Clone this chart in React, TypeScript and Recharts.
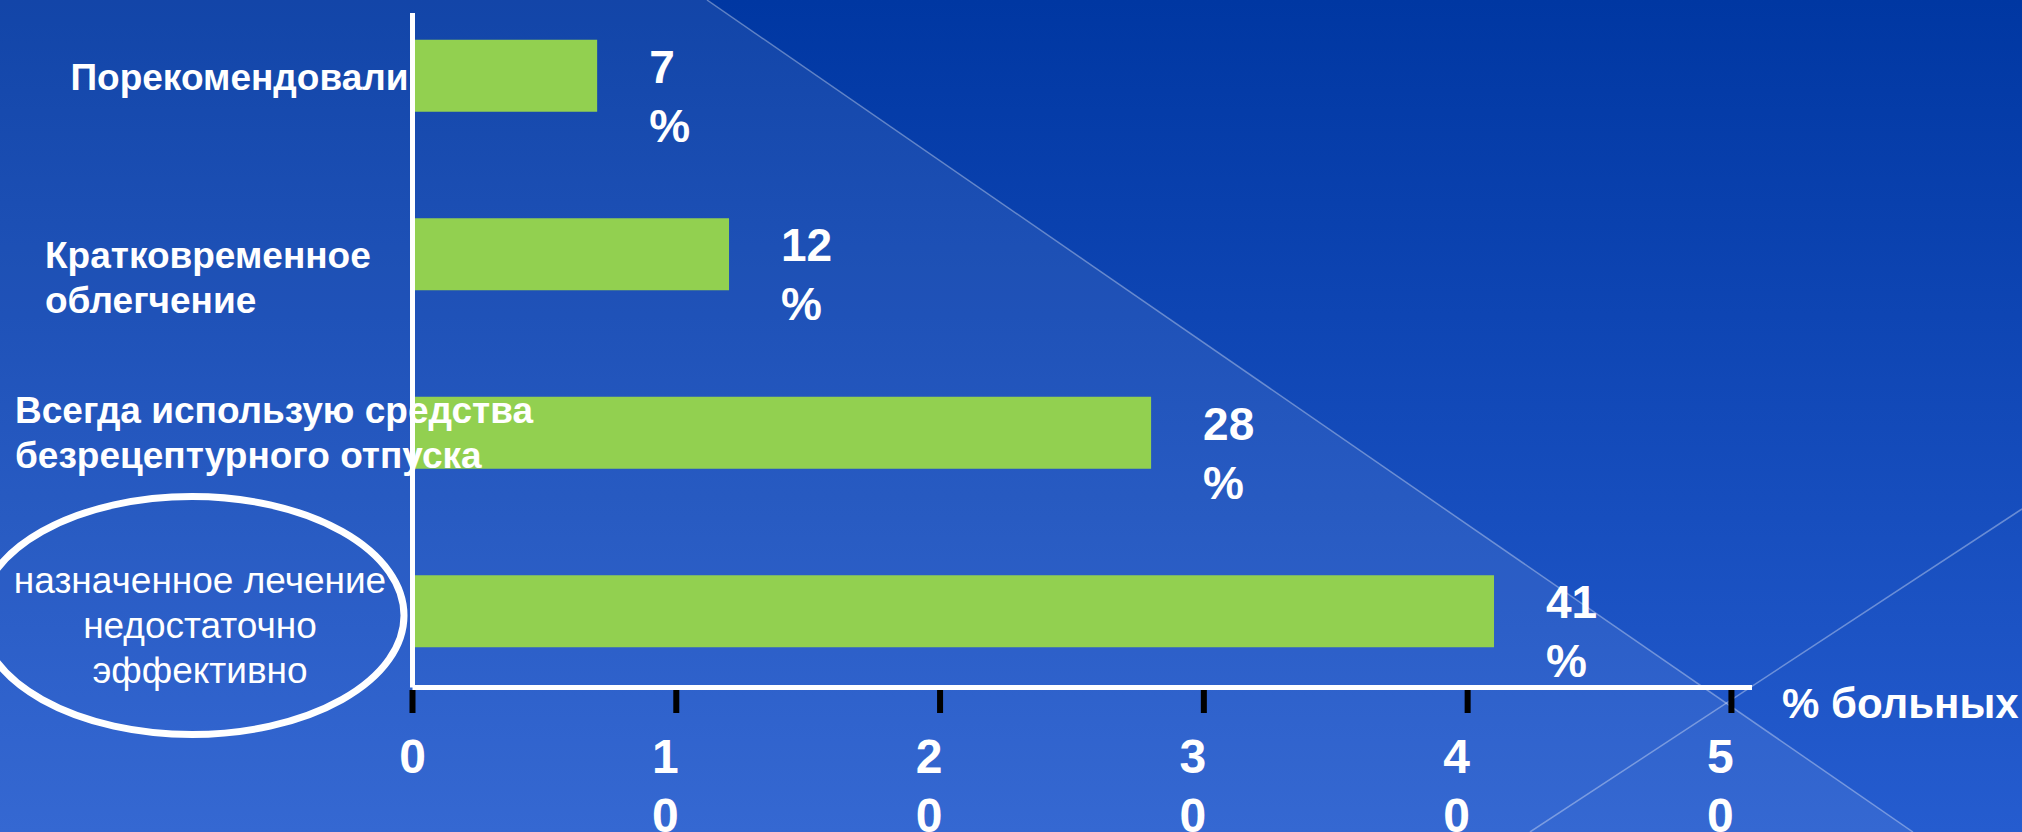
import React from 'react';
import { BarChart, Bar, XAxis, YAxis, LabelList } from 'recharts';

// ---------- data ----------
const categories: string[] = [
  'Порекомендовали',
  'Кратковременное\nоблегчение',
  'Всегда использую средства\nбезрецептурного отпуска',
  'назначенное лечение\nнедостаточно\nэффективно',
];
const values: number[] = [7, 12, 28, 41];
const xTicks: number[] = [0, 10, 20, 30, 40, 50];
const valueSuffix = '%';
const axisTitle = '% больных';

const data = categories.map((c, i) => ({ category: c, value: values[i] }));

// ---------- presentation ----------
const W = 2022;
const H = 832;
const FONT = '"Liberation Sans", Arial, Helvetica, sans-serif';
const BAR_COLOR = '#92d050';

// label layout per category (text placement relative to band centre)
const labelLayout: Array<{
  anchor: 'start' | 'middle' | 'end';
  x?: number;
  dx?: number;
  dy: number[];
  bold: boolean;
  size: number;
  ellipse?: { cx: number; dy: number; rx: number; ry: number };
}> = [
  { anchor: 'end', dx: -4, dy: [14], bold: true, size: 37 },
  { anchor: 'start', x: 45, dy: [13.5, 58.5], bold: true, size: 37 },
  { anchor: 'start', x: 15, dy: [-10, 35], bold: true, size: 37 },
  {
    anchor: 'middle',
    x: 200,
    dy: [-18.5, 26.5, 71.5],
    bold: false,
    size: 37,
    ellipse: { cx: 192, dy: 4, rx: 212, ry: 119 },
  },
];

const CategoryTick = (props: any) => {
  const { x, y, payload } = props;
  const idx = categories.indexOf(payload.value);
  const cfg = labelLayout[idx] || labelLayout[0];
  const lines = String(payload.value).split('\n');
  const tx = cfg.x !== undefined ? cfg.x : x + (cfg.dx || 0);
  return (
    <g>
      {cfg.ellipse && (
        <ellipse
          cx={cfg.ellipse.cx}
          cy={y + cfg.ellipse.dy}
          rx={cfg.ellipse.rx}
          ry={cfg.ellipse.ry}
          fill="none"
          stroke="#ffffff"
          strokeWidth={7}
        />
      )}
      {lines.map((ln, i) => (
        <text
          key={i}
          x={tx}
          y={y + cfg.dy[i]}
          textAnchor={cfg.anchor}
          fill="#ffffff"
          fontFamily={FONT}
          fontSize={cfg.size}
          fontWeight={cfg.bold ? 700 : 400}
        >
          {ln}
        </text>
      ))}
    </g>
  );
};

const ValueTick = (props: any) => {
  const { x, y, payload } = props;
  const v = payload.value;
  const chars = String(v).split('');
  const cx = v === 0 ? x : x - 11;
  return (
    <g>
      <rect x={x - 3} y={y + 2.5} width={6} height={23} fill="#000000" />
      {chars.map((ch, i) => (
        <text
          key={i}
          x={cx}
          y={y + 85.5 + i * 59}
          textAnchor="middle"
          fill="#ffffff"
          fontFamily={FONT}
          fontSize={48}
          fontWeight={700}
        >
          {ch}
        </text>
      ))}
    </g>
  );
};

const ValueLabel = (props: any) => {
  const { x, y, width, value } = props;
  const lx = Number(x) + Number(width) + 52;
  const ly = Number(y) + 43;
  return (
    <text fill="#ffffff" fontFamily={FONT} fontSize={46} fontWeight={700}>
      <tspan x={lx} y={ly}>
        {value}
      </tspan>
      <tspan x={lx} y={ly + 59}>
        {valueSuffix}
      </tspan>
    </text>
  );
};

const AxisTitle = (props: any) => {
  const vb = props.viewBox || {};
  return (
    <text
      x={vb.x + vb.width + 30}
      y={vb.y + 30.5}
      fill="#ffffff"
      fontFamily={FONT}
      fontSize={42}
      fontWeight={700}
    >
      {axisTitle}
    </text>
  );
};

const Background = () => (
  <svg
    width={W}
    height={H}
    style={{ position: 'absolute', left: 0, top: 0 }}
  >
    <defs>
      <linearGradient id="bg" x1="0" y1="0" x2="0" y2="1">
        <stop offset="0%" stopColor="#0037a2" />
        <stop offset="100%" stopColor="#255ccf" />
      </linearGradient>
    </defs>
    <rect x={0} y={0} width={W} height={H} fill="url(#bg)" />
    <polygon points="0,0 707,0 1913,832 0,832" fill="#ffffff" fillOpacity={0.075} />
    <line x1={707} y1={0} x2={1913} y2={832} stroke="#ffffff" strokeOpacity={0.35} strokeWidth={1.5} />
    <line x1={1530} y1={832} x2={2022} y2={509} stroke="#ffffff" strokeOpacity={0.35} strokeWidth={1.5} />
  </svg>
);

export default function App() {
  return (
    <div
      style={{
        position: 'absolute',
        left: 0,
        top: 0,
        width: W,
        height: H,
        overflow: 'hidden',
        fontFamily: FONT,
      }}
    >
      <Background />
      <div style={{ position: 'absolute', left: 0, top: 0 }}>
        <BarChart
          width={W}
          height={H}
          data={data}
          layout="vertical"
          margin={{ top: 13, right: 270, bottom: 0, left: 0 }}
        >
          <Bar
            dataKey="value"
            fill={BAR_COLOR}
            barSize={72}
            isAnimationActive={false}
          >
            <LabelList dataKey="value" content={<ValueLabel />} />
          </Bar>
          <XAxis
            type="number"
            dataKey="value"
            domain={[0, 50.78]}
            ticks={xTicks}
            interval={0}
            height={144.5}
            axisLine={{ stroke: '#ffffff', strokeWidth: 5 }}
            tickLine={false}
            tickSize={0}
            tickMargin={0}
            tick={<ValueTick />}
            label={{ content: <AxisTitle /> }}
          />
          <YAxis
            type="category"
            dataKey="category"
            width={412.5}
            padding={{ top: -26.25, bottom: -13.25 }}
            axisLine={{ stroke: '#ffffff', strokeWidth: 5 }}
            tickLine={false}
            tickSize={0}
            tickMargin={0}
            interval={0}
            tick={<CategoryTick />}
          />
        </BarChart>
      </div>
    </div>
  );
}
